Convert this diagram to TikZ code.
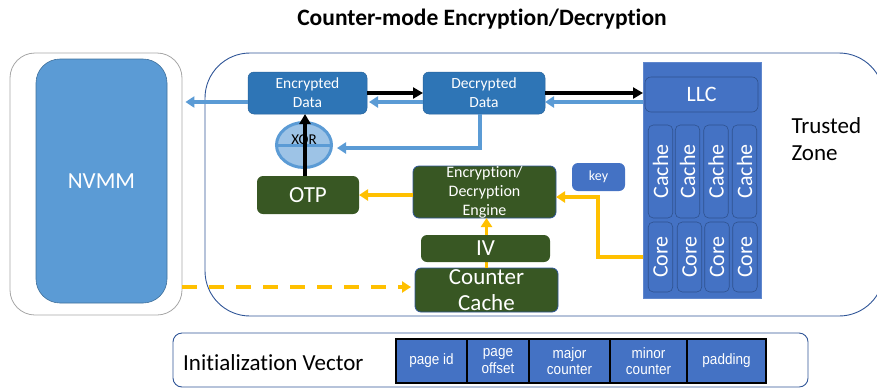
\documentclass[tikz,border=0pt]{standalone}
\usepackage{fontspec}
\setmainfont{Carlito}[Ligatures=NoCommon]
\newfontfamily\fieldfont[FakeStretch=0.9]{Liberation Sans}
\usetikzlibrary{arrows.meta,shapes.geometric,calc}
\definecolor{nvmmblue}{HTML}{5B9BD5}
\definecolor{nvmmedge}{HTML}{41719C}
\definecolor{datablue}{HTML}{2E75B6}
\definecolor{cpublue}{HTML}{4472C4}
\definecolor{cpuedge}{HTML}{2F528F}
\definecolor{zoneblue}{HTML}{2F5597}
\definecolor{engreen}{HTML}{385723}
\definecolor{amber}{HTML}{FFC000}
\definecolor{xorfill}{HTML}{9DC3E6}
\begin{document}
\begin{tikzpicture}[x=1pt,y=-1pt,
  fs/.style 2 args={font=\fontsize{#1}{#2}\selectfont},
  box/.style={rounded corners=6pt, inner sep=0pt, outer sep=0pt, align=center, text=white},
  databox/.style={box, fill=datablue, draw=datablue!85!black, line width=0.5pt, fs={15.5}{19}},
  greenbox/.style={box, fill=engreen, fs={23}{26}},
  cpubox/.style={box, fill=cpublue, draw=cpuedge, line width=0.6pt, fs={22}{24}},
  field/.style={draw=black, line width=1.6pt, fill=cpublue, text=white, inner sep=0pt,
    outer sep=0pt, minimum height=44pt, align=center, anchor=west, font=\fieldfont\fontsize{15}{16.5}\selectfont},
  blk/.style={line width=3.5pt, black, -{Triangle[length=10pt,width=11pt]}},
  lb/.style={line width=3.5pt, nvmmblue, -{Triangle[length=9pt,width=11pt]}},
  org/.style={line width=3.5pt, amber, -{Triangle[length=9pt,width=11pt]}},
  ]
\useasboundingbox (0,0) rectangle (877,389);

% title
\node[anchor=base, font=\bfseries\fontsize{23.5}{26}\selectfont] (title) at (482,25)
  {Counter-mode Encryption/Decryption};

% memory side
\node[draw=black!35, line width=0.8pt, rounded corners=25pt, minimum width=172pt,
  minimum height=262pt, inner sep=0pt] (nvmm) at (96,184) {};
\node[box, fill=nvmmblue, draw=nvmmedge, line width=0.6pt, rounded corners=24pt,
  minimum width=131pt, minimum height=244pt, fs={23}{26}] (nvmmcore) at (101.5,181) {NVMM};

% trusted zone
\node[draw=zoneblue, line width=0.9pt, rounded corners=45pt, minimum width=679pt,
  minimum height=263pt, inner sep=0pt] (zone) at (544.5,184.5) {};
\node[anchor=west, align=left, fs={23}{27}] (zonelabel) at (788,139) {Trusted\\Zone};

% processor
\node[fill=cpublue, draw=cpublue!85!white, line width=0.5pt, minimum width=118pt,
  minimum height=236pt, inner sep=0pt, outer sep=0pt] (panel) at (702,180) {};
\node[cpubox, minimum width=113pt, minimum height=35pt] (llc) at (701.5,94.5) {LLC};
\foreach \i/\cx in {1/660.5, 2/687.5, 3/716, 4/744.5}
  \node[cpubox, rounded corners=5pt, minimum width=93pt, minimum height=24.5pt,
    rotate=90] (cache\i) at (\cx,171.5) {Cache};
\foreach \i/\cx in {1/660.5, 2/689.5, 3/717, 4/745}
  \node[cpubox, rounded corners=5pt, minimum width=70pt, minimum height=24.5pt,
    rotate=90] (core\i) at (\cx,257) {Core};

% data path
\node[databox, minimum width=119pt, minimum height=42pt] (enc) at (307.5,93) {Encrypted\\Data};
\node[databox, minimum width=122pt, minimum height=42pt] (dec) at (484,93) {Decrypted\\Data};
\node[ellipse, fill=xorfill, draw=nvmmblue, line width=3pt, minimum width=55pt,
  minimum height=45pt, inner sep=0pt] (xor) at (304,145) {};
\draw[nvmmblue, line width=3pt] (xor.west) -- (xor.east);
\node[fs={15}{17}] (xorlabel) at (304,140) {XOR};

% engine side
\node[greenbox, minimum width=102pt, minimum height=38pt] (otp) at (308,195) {OTP};
\node[greenbox, draw=zoneblue, line width=0.8pt, minimum width=143pt, minimum height=52pt,
  fs={16}{19}] (engine) at (484.5,192) {Encryption/\\Decryption\\Engine};
\node[box, fill=cpublue, minimum width=53pt, minimum height=28pt, fs={14}{16}] (key)
  at (598.5,177) {key};
\node[greenbox, draw=zoneblue, line width=0.8pt, minimum width=143pt, minimum height=44pt]
  (ctr) at (486.5,290) {Counter\\Cache};
\draw[org] (ctr.north) -- (ctr.north |- engine.south);
\node[greenbox, minimum width=129pt, minimum height=27pt] (iv) at (485.5,248.5) {IV};

% black: read path
\draw[blk] (enc.east) -- (dec.west);
\draw[blk] (dec.east) -- (panel.west |- dec.east);
\draw[blk] ([xshift=-3pt]otp.north) -- ([xshift=-3pt]otp.north |- enc.south);

% light blue: write path
\draw[lb] ($(panel.west |- dec.east)+(0,9)$) -- ($(dec.east)+(0,9)$);
\draw[lb] ($(dec.west)+(0,9)$) -- ($(enc.east)+(2,9)$);
\draw[lb] ($(enc.west)+(0,9)$) -- ($(nvmm.east |- enc.west)+(3,9)$);
\draw[lb] ([xshift=-4pt]dec.south) |- ($(xor.east)+(4,3)$);

% amber: counter and key path
\draw[org] (engine.west |- otp.east) -- (otp.east);
\draw[org] (panel.west |- core1) -| ($(engine.east)+(42,5)$) -- ($(engine.east)+(0,5)$);
\draw[org, dash pattern=on 15pt off 12pt]
  ($(nvmm.east |- ctr.west)+(0,-3)$) -- ($(ctr.west)+(-4,-3)$);

% initialization vector layout
\node[draw=zoneblue, line width=0.9pt, rounded corners=9pt, minimum width=635pt,
  minimum height=54pt, inner sep=0pt] (ivbox) at (490.5,360) {};
\node[anchor=west, inner sep=0pt, fs={23}{26}] (ivlabel) at (183,363) {Initialization Vector};
\node[field, minimum width=71pt] (f1) at (396,361) {page id};
\node[field, minimum width=62pt] (f2) at (f1.east) {page\\offset};
\node[field, minimum width=81pt] (f3) at (f2.east) {major\\counter};
\node[field, minimum width=77pt] (f4) at (f3.east) {minor\\counter};
\node[field, minimum width=79pt] (f5) at (f4.east) {padding};
\draw[line width=2.6pt] (f1.north west) rectangle (f5.south east);
\end{tikzpicture}
\end{document}
